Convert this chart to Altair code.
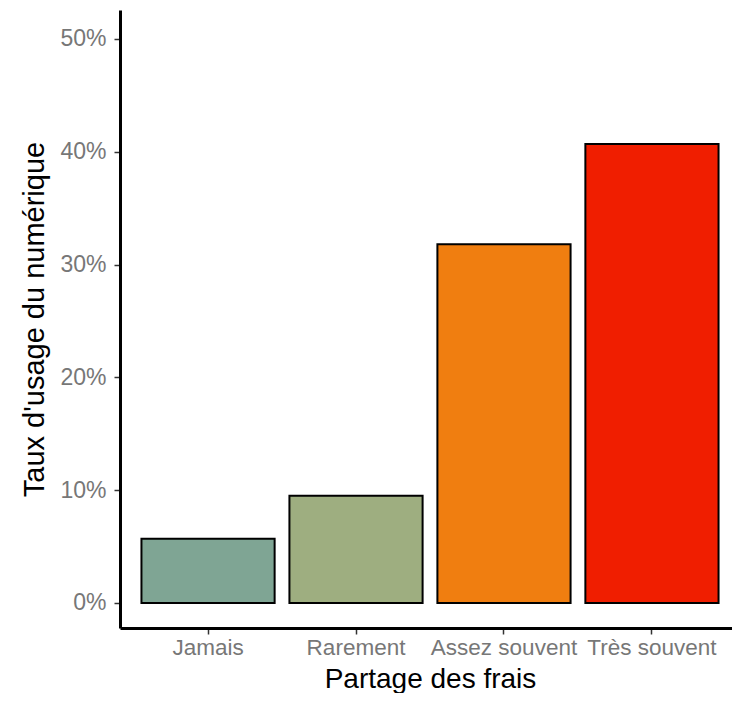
import altair as alt
import pandas as pd

categories = ["Jamais", "Rarement", "Assez souvent", "Très souvent"]
values = [0.057, 0.095, 0.318, 0.407]
colors = ["#7fa594", "#9eae80", "#f07e10", "#f01e00"]
y_ticks = [0, 0.1, 0.2, 0.3, 0.4, 0.5]

df = pd.DataFrame({"cat": categories, "val": values})

FONT = "Liberation Sans"
LABEL_COLOR = "#777777"

chart = alt.Chart(df).mark_bar(stroke="black", strokeWidth=2).encode(
    x=alt.X("cat:N", sort=categories,
            scale=alt.Scale(paddingInner=0.1, paddingOuter=0.145, range=[0, 620]),
            axis=alt.Axis(title="Partage des frais", labelAngle=0,
                          domainWidth=3, domainColor="black",
                          tickColor="#333", tickSize=6, tickWidth=1.5,
                          labelPadding=2,
                          titleBaseline="alphabetic", titleY=59,
                          labelFontSize=22.5, labelColor=LABEL_COLOR,
                          titleFontSize=28, titleFontWeight="normal", titleColor="black",
                          labelFont=FONT, titleFont=FONT)),
    y=alt.Y("val:Q",
            scale=alt.Scale(domain=[-0.0222, 0.5257], nice=False, zero=False),
            axis=alt.Axis(title="Taux d'usage du numérique", values=y_ticks, format=".0%",
                          grid=False, domainWidth=3, domainColor="black",
                          tickColor="#333", tickSize=6, tickWidth=1.5,
                          labelPadding=8, titlePadding=10,
                          labelFontSize=23, labelColor=LABEL_COLOR,
                          titleFontSize=29, titleFontWeight="normal", titleColor="black",
                          labelFont=FONT, titleFont=FONT)),
    color=alt.Color("cat:N", scale=alt.Scale(domain=categories, range=colors), legend=None),
).properties(
    width=612, height=618,
    autosize=alt.AutoSizeParams(type="none"),
    padding={"left": 112, "top": 2, "right": 0, "bottom": 65},
).configure_view(stroke=None)

chart.save("out.html", embed_options={"renderer": "svg", "actions": False})
